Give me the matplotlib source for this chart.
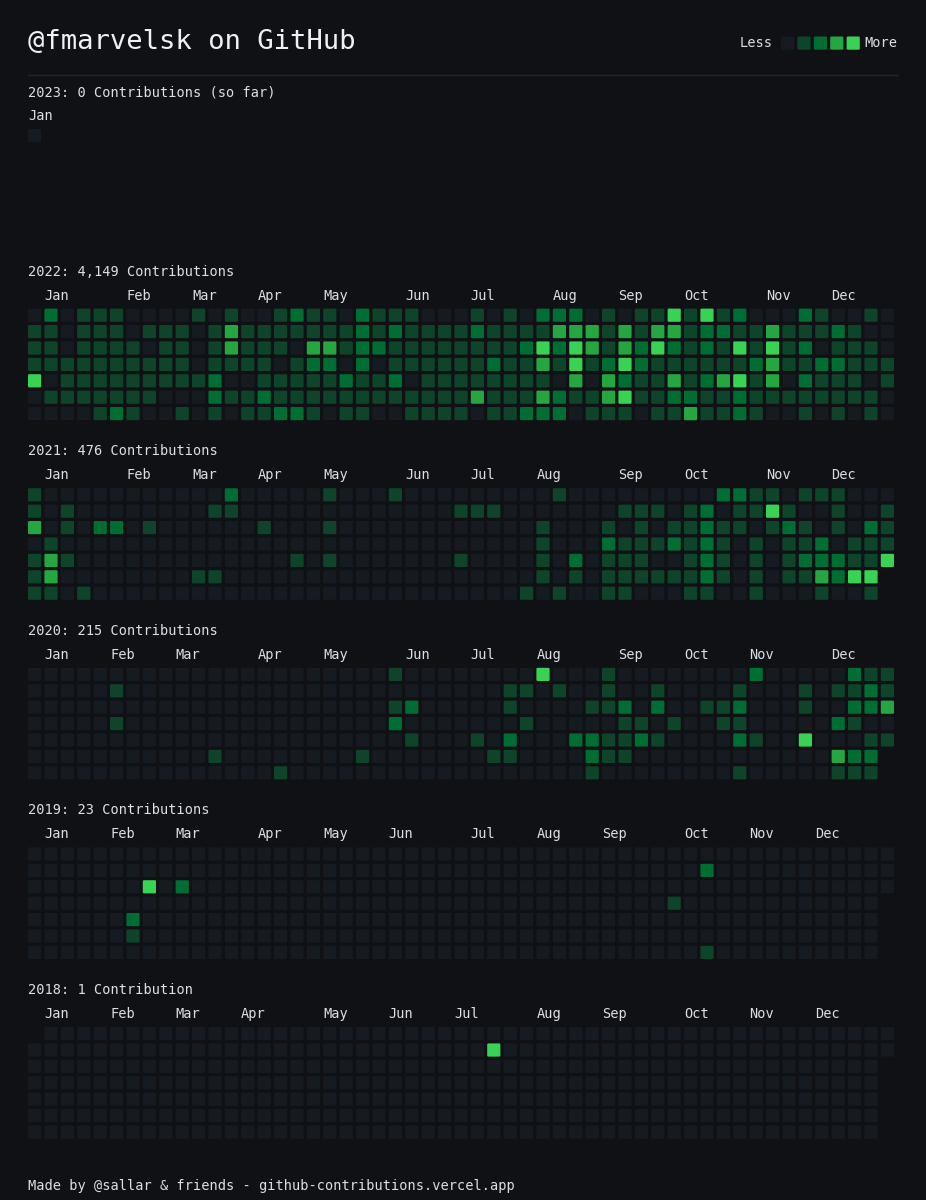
import matplotlib
matplotlib.use("Agg")
import matplotlib.pyplot as plt
from matplotlib.patches import FancyBboxPatch
from matplotlib.collections import PatchCollection

# 用户和年份
user = "@fmarvelsk"
years = [2023, 2022, 2021, 2020, 2019, 2018]
totals = ["0 Contributions (so far)", "4,149 Contributions", "476 Contributions",
          "215 Contributions", "23 Contributions", "1 Contribution"]

# 每年的月份标签 (所在的周)
months = ['Jan', 'Feb', 'Mar', 'Apr', 'May', 'Jun', 'Jul', 'Aug', 'Sep', 'Oct', 'Nov', 'Dec']
month_weeks_2023 = [0]
month_weeks_2022 = [1, 6, 10, 14, 18, 23, 27, 32, 36, 40, 45, 49]
month_weeks_2021 = [1, 6, 10, 14, 18, 23, 27, 31, 36, 40, 45, 49]
month_weeks_2020 = [1, 5, 9, 14, 18, 23, 27, 31, 36, 40, 44, 49]
month_weeks_2019 = [1, 5, 9, 14, 18, 22, 27, 31, 35, 40, 44, 48]
month_weeks_2018 = [1, 5, 9, 13, 18, 22, 26, 31, 35, 40, 44, 48]

# 贡献等级 0-4, '-' = 没有格子; 每行一个星期几, 每列一周
grid_2023 = ["0", "", "", "", "", "", ""]
grid_2022 = [
    "0201110000 1010012110 2111000101 0222010114 1412000210 010",
    "1101110111 0131111111 2121111211 1133313133 1221131112 100",
    "1101111011 0131110331 2211111111 2424313242 1214141201 110",
    "1111111111 0111101220 2011111121 1314124211 1111231122 111",
    "4011111111 1200111112 1120111111 1103032113 1234130211 101",
    "0111111100 0211211111 1111111311 1321134112 2112111111 110",
    "0000121001 0101122101 1001111011 2220111011 3112100101 010",
]
grid_2021 = [
    "1000000000 0020000010 0010000000 0010000000 0022110111 000",
    "1010000000 0110000000 0000001110 0000001110 1201141001 001",
    "3010220100 0000100010 0000000000 0100010101 1211012101 021",
    "0100000000 0000000000 0000000000 0100021112 1210101120 111",
    "1310000000 0000001010 0000001000 0102011100 1210101222 114",
    "1300000000 1100000000 0000000000 0101011111 1210101132 44-",
    "1101000000 0000000000 0000000000 1010011000 1100100010 01-",
]
grid_2020 = [
    "0000000000 0000000000 0010000000 0400010000 0000200000 211",
    "0000010000 0000000000 0000000001 1010010010 0001000101 121",
    "0000000000 0000000000 0012000001 0000112020 0112000100 223",
    "0000010000 0000000000 0020000000 1000001101 0011000002 100",
    "0000000000 0000000000 0001000102 0002211210 0002100400 011",
    "0000000000 0100000000 1000000011 0000211000 0000000003 22-",
    "0000000000 0000010000 0000000000 0000100000 0001000001 11-",
]
grid_2019 = [
    "0000000000 0000000000 0000000000 0000000000 0000000000 000",
    "0000000000 0000000000 0000000000 0000000000 0200000000 000",
    "0000000402 0000000000 0000000000 0000000000 0000000000 000",
    "0000000000 0000000000 0000000000 0000000001 0000000000 00-",
    "0000002000 0000000000 0000000000 0000000000 0000000000 00-",
    "0000001000 0000000000 0000000000 0000000000 0000000000 00-",
    "0000000000 0000000000 0000000000 0000000000 0100000000 00-",
]
grid_2018 = [
    "-000000000 0000000000 0000000000 0000000000 0000000000 000",
    "0000000000 0000000000 0000000040 0000000000 0000000000 000",
    "0000000000 0000000000 0000000000 0000000000 0000000000 00-",
    "0000000000 0000000000 0000000000 0000000000 0000000000 00-",
    "0000000000 0000000000 0000000000 0000000000 0000000000 00-",
    "0000000000 0000000000 0000000000 0000000000 0000000000 00-",
    "0000000000 0000000000 0000000000 0000000000 0000000000 00-",
]
grids = [grid_2023, grid_2022, grid_2021, grid_2020, grid_2019, grid_2018]
month_weeks = [month_weeks_2023, month_weeks_2022, month_weeks_2021,
               month_weeks_2020, month_weeks_2019, month_weeks_2018]

# 颜色
bg = '#0f1115'
txt = '#dadfe5'
level_colors = ['#161b22', '#0e4429', '#006d32', '#26a641', '#39d353']

fig = plt.figure(figsize=(9.26, 12), dpi=100)
fig.patch.set_facecolor(bg)
ax = fig.add_axes([0, 0, 1, 1])
ax.set_xlim(0, 926)
ax.set_ylim(1200, 0)
ax.axis('off')
ax.set_facecolor(bg)
plt.rcParams['font.family'] = ['DejaVu Sans Mono']

left = 28
pitch = 16.4
cell = 13.2
fs = 9.8

def square(x, y, c):
    return FancyBboxPatch((x, y), cell, cell, boxstyle="round,pad=0,rounding_size=1.2",
                          facecolor=c, edgecolor='none')

# 标题 + 图例
ax.text(left, 42, user + " on GitHub", fontsize=19.6, color='#eef1f4', va='center', ha='left')
ax.text(773, 43, "Less", fontsize=fs, color=txt, va='center', ha='right')
legend = [square(781 + i * pitch, 36.5, c) for i, c in enumerate(level_colors)]
ax.add_collection(PatchCollection(legend, match_original=True))
ax.text(864, 43, "More", fontsize=fs, color=txt, va='center', ha='left')
ax.plot([left, 897], [75, 75], color='#21262d', lw=1)

# 每年的格子
patches = []
for k, (yr, tot, g, mw) in enumerate(zip(years, totals, grids, month_weeks)):
    hy = 92 + 179.6 * k
    ax.text(left, hy, f"{yr}: {tot}", fontsize=fs, color=txt, va='center', ha='left')
    for w, m in zip(mw, months):
        ax.text(left + w * pitch, hy + 24, m, fontsize=fs, color=txt, va='center', ha='left')
    top = hy + 37
    for r, row in enumerate(g):
        row = row.replace(' ', '').ljust(53, '-')
        for c, v in enumerate(row):
            if v == '-':
                continue
            patches.append(square(left + c * pitch, top + r * pitch, level_colors[int(v)]))
ax.add_collection(PatchCollection(patches, match_original=True))

ax.text(left, 1186, "Made by @sallar & friends - github-contributions.vercel.app",
        fontsize=fs, color=txt, va='center', ha='left')

fig.savefig('out.png', dpi=100, facecolor=bg)
